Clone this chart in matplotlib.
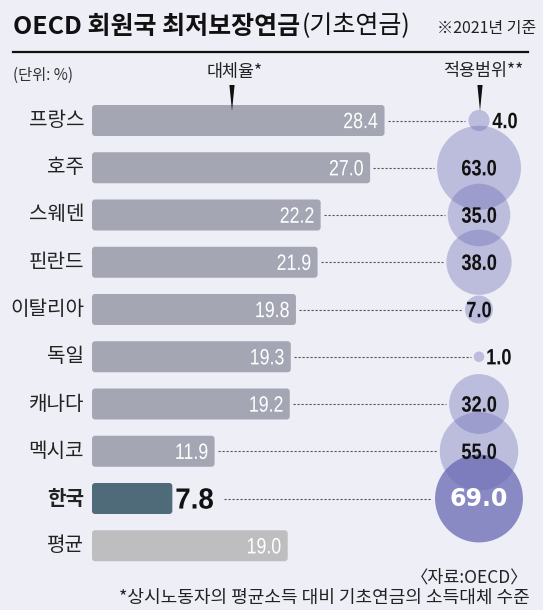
# -*- coding: utf-8 -*-
"""
OECD 회원국 최저보장연금(기초연금) - 대체율 막대 + 적용범위 버블
"""

import matplotlib
matplotlib.use("Agg")
import matplotlib.pyplot as plt
import matplotlib.transforms as mtransforms
from matplotlib.patches import FancyBboxPatch, Polygon, PathPatch
from matplotlib.textpath import TextPath
from matplotlib.font_manager import FontProperties
import numpy as np

KR = ['Noto Sans CJK KR', 'DejaVu Sans']
plt.rcParams['font.family'] = KR
plt.rcParams['axes.unicode_minus'] = False

# 데이터
countries = ['프랑스', '호주', '스웨덴', '핀란드', '이탈리아', '독일', '캐나다', '멕시코', '한국', '평균']
replacement = [28.4, 27.0, 22.2, 21.9, 19.8, 19.3, 19.2, 11.9, 7.8, 19.0]
coverage = [4.0, 63.0, 35.0, 38.0, 7.0, 1.0, 32.0, 55.0, 69.0, None]

BG = '#EEEEF6'
BAR = '#A4A6B3'
BAR_KR = '#4F6B79'
BAR_AVG = '#BEBEC1'
BUB = (104 / 255, 104 / 255, 180 / 255)

W, H = 543, 610
DPI = 100
fig = plt.figure(figsize=(W / DPI, H / DPI), dpi=DPI, facecolor=BG)


def narrow_text(ax, x, y, s, size, color, weight='normal', ha='center',
                sx=0.8, family='Liberation Sans', zorder=5):
    """가로로 좁힌 숫자 텍스트 (좁은 글꼴이 없어서 경로로 그림)"""
    prop = FontProperties(family=family, weight=weight)
    tp = TextPath((0, 0), s, size=size * DPI / 72, prop=prop)
    ext = tp.get_extents()
    if ha == 'center':
        dx = -(ext.x0 + ext.x1) / 2 * sx
    elif ha == 'right':
        dx = -ext.x1 * sx
    else:
        dx = -ext.x0 * sx
    dy = -(ext.y0 + ext.y1) / 2
    tr = (mtransforms.Affine2D().scale(sx, 1).translate(dx, dy)
          + mtransforms.ScaledTranslation(x, y, ax.transData))
    p = PathPatch(tp, transform=tr, fc=color, ec='none', lw=0,
                  zorder=zorder, clip_on=False)
    ax.add_artist(p)
    return p


# 픽셀 기준 레이아웃
PX_PER_UNIT = 10.3
X0 = 92            # 막대 시작 픽셀
ROW0 = 120.5       # 첫 행 중심
PITCH = 47.25
BUB_X = 479        # 버블 중심 픽셀

y_top = ROW0 - PITCH / 2
y_bot = ROW0 + PITCH * (len(countries) - 0.5)
xmax = (W - X0) / PX_PER_UNIT
ax = fig.add_axes([X0 / W, 1 - y_bot / H, (W - X0) / W, (y_bot - y_top) / H])
ax.set_xlim(0, xmax)
ax.set_ylim(len(countries) - 0.5, -0.5)
ax.axis('off')

bub_x = (BUB_X - X0) / PX_PER_UNIT
bar_h = 31 / PITCH
r_per = 5.29  # 버블 반지름(px) = r_per * sqrt(값)

for i, (name, v, c) in enumerate(zip(countries, replacement, coverage)):
    is_kr = name == '한국'
    is_avg = name == '평균'
    col = BAR_KR if is_kr else (BAR_AVG if is_avg else BAR)
    ax.add_patch(FancyBboxPatch((0, i - bar_h / 2), v, bar_h,
                                boxstyle='round,pad=0,rounding_size=0.3',
                                mutation_aspect=PX_PER_UNIT / PITCH,
                                fc=col, ec='none', zorder=2))
    # 국가명
    ax.text(-8 / PX_PER_UNIT, i, name, ha='right', va='center',
            fontsize=14.5, fontweight='bold' if is_kr else 'normal',
            color='#222222', clip_on=False)
    # 값
    if is_kr:
        narrow_text(ax, v + 0.4, i, f'{v:.1f}', 21, '#111111',
                    weight='bold', ha='left', sx=0.95)
        line_start = v + 5.0
    else:
        narrow_text(ax, v - 0.7, i, f'{v:.1f}', 16, 'white', ha='right')
        line_start = v + 0.3

    if c is None:
        continue
    r_px = r_per * np.sqrt(c)
    line_end = bub_x - (r_px + 3) / PX_PER_UNIT
    ax.plot([line_start, line_end], [i, i], color='#555555', lw=0.8,
            ls=(0, (2, 1.6)), zorder=1)
    alpha = 0.75 if is_kr else 0.37
    ax.scatter([bub_x], [i], s=(2 * r_px * 72 / DPI) ** 2, color=BUB,
               alpha=alpha, edgecolors='none', zorder=3)
    if is_kr:
        ax.text(bub_x, i + 0.02, f'{c:.1f}', ha='center', va='center',
                fontsize=17, fontweight='bold', family='DejaVu Sans',
                color='white', zorder=5)
    elif c < 5:
        narrow_text(ax, bub_x + (r_px + 3) / PX_PER_UNIT, i, f'{c:.1f}', 16,
                    '#111111', weight='bold', ha='left', sx=0.82)
    else:
        narrow_text(ax, bub_x, i, f'{c:.1f}', 16, '#111111',
                    weight='bold', ha='center', sx=0.82)

# 상단/하단 장식 (픽셀 좌표 오버레이)
ov = fig.add_axes([0, 0, 1, 1], facecolor='none')
ov.set_xlim(0, W)
ov.set_ylim(H, 0)
ov.axis('off')

t1 = ov.text(13, 27, 'OECD 회원국 최저보장연금', ha='left', va='center',
             fontsize=18, fontweight='bold', color='#111111')
ov.annotate('(기초연금)', xy=(1, 0), xycoords=t1, xytext=(1, 0),
            textcoords='offset points', ha='left', va='bottom',
            fontsize=18, color='#111111')
ov.text(536, 28, '※2021년 기준', ha='right', va='center', fontsize=11.5,
        color='#222222')
ov.plot([13, 528], [52, 52], color='#111111', lw=1.6)

ov.text(13, 75, '(단위: %)', ha='left', va='center', fontsize=11, color='#333333')
ov.text(235, 72, '대체율*', ha='center', va='center', fontsize=12.5, color='#222222')
ov.text(483, 71, '적용범위**', ha='center', va='center', fontsize=12.5, color='#222222')

for ax_x in (232, 480):
    ov.add_patch(Polygon([(ax_x - 2.6, 85), (ax_x + 2.6, 85), (ax_x, 111)],
                         closed=True, fc='#111111', ec='none', zorder=6))

ov.text(528, 578, '〈자료:OECD〉', ha='right', va='center', fontsize=12.5,
        color='#222222')
ov.text(530, 598, '*상시노동자의 평균소득 대비 기초연금의 소득대체 수준',
        ha='right', va='center', fontsize=13, color='#222222')

fig.savefig('out.png', dpi=DPI, facecolor=BG)
plt.close(fig)
